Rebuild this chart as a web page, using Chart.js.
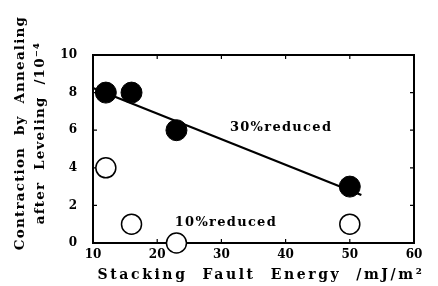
<!DOCTYPE html>
<html lang="en">
<head>
    <title>Stacking Fault Energy</title>
    <script src="https://cdn.jsdelivr.net/npm/chart.js"></script>
    <style>
        body { margin: 0; background: #fff; }
        #wrap { width: 438px; height: 286px; }
    </style>
</head>
<body>
    <div id="wrap"><canvas id="sfeChart"></canvas></div>

    <script>
        // values
        const energy = [12, 16, 23, 50];
        const reduced30 = [8, 8, 6, 3];
        const reduced10 = [4, 1, 0, 1];
        const fitX = [10, 51.8];
        const fitY = [8.25, 2.55];
        const xTicks = [10, 20, 30, 40, 50, 60];
        const yTicks = [0, 2, 4, 6, 8, 10];
        const notes = [
            { text: "30%reduced", x: 39.3, y: 6.15 },
            { text: "10%reduced", x: 30.7, y: 1.1 }
        ];

        const serif = "'DejaVu Serif', serif";

        // box with inward ticks, axis titles and notes
        const frame = {
            id: "frame",
            beforeDatasetsDraw(chart) {
                const ctx = chart.ctx;
                const a = chart.chartArea;
                const xs = chart.scales.x, ys = chart.scales.y;
                ctx.save();
                ctx.strokeStyle = "#000";
                ctx.lineWidth = 2;
                ctx.strokeRect(a.left, a.top, a.right - a.left, a.bottom - a.top);
                ctx.lineWidth = 1.2;
                ctx.beginPath();
                xTicks.slice(1, -1).forEach(v => {
                    const px = xs.getPixelForValue(v);
                    ctx.moveTo(px, a.bottom); ctx.lineTo(px, a.bottom - 4);
                    ctx.moveTo(px, a.top); ctx.lineTo(px, a.top + 4);
                });
                yTicks.slice(1, -1).forEach(v => {
                    const py = ys.getPixelForValue(v);
                    ctx.moveTo(a.left, py); ctx.lineTo(a.left + 4, py);
                    ctx.moveTo(a.right, py); ctx.lineTo(a.right - 4, py);
                });
                ctx.stroke();
                ctx.restore();
            },
            afterDraw(chart) {
                const ctx = chart.ctx;
                const xs = chart.scales.x, ys = chart.scales.y;
                ctx.save();
                ctx.fillStyle = "#000";
                ctx.textAlign = "center";
                ctx.textBaseline = "middle";

                ctx.font = "bold 13px " + serif;
                ctx.letterSpacing = "1.3px";
                notes.forEach(n => {
                    ctx.fillText(n.text, xs.getPixelForValue(n.x), ys.getPixelForValue(n.y));
                });

                ctx.font = "bold 14px " + serif;
                ctx.letterSpacing = "2.6px";
                ctx.fillText("Stacking  Fault  Energy  /mJ/m\u00b2", 261, 275);

                ctx.font = "bold 13.5px " + serif;
                ctx.letterSpacing = "1.2px";
                ctx.translate(0, 133);
                ctx.rotate(-Math.PI / 2);
                ctx.fillText("Contraction  by  Annealing", 0, 20);
                ctx.fillText("after  Leveling  /10\u207b\u2074", 0, 40);
                ctx.restore();
            }
        };

        new Chart(document.getElementById("sfeChart"), {
            type: "scatter",
            data: {
                datasets: [
                    {
                        label: "fit",
                        type: "line",
                        data: fitX.map((x, i) => ({ x: x, y: fitY[i] })),
                        borderColor: "#000",
                        borderWidth: 2.2,
                        pointRadius: 0,
                        clip: false,
                        order: 3
                    },
                    {
                        label: "30%reduced",
                        data: energy.map((x, i) => ({ x: x, y: reduced30[i] })),
                        pointRadius: 10.5,
                        backgroundColor: "#000",
                        borderColor: "#000",
                        borderWidth: 1,
                        clip: false,
                        order: 1
                    },
                    {
                        label: "10%reduced",
                        data: energy.map((x, i) => ({ x: x, y: reduced10[i] })),
                        pointRadius: 10,
                        backgroundColor: "#fff",
                        borderColor: "#000",
                        borderWidth: 1.5,
                        clip: false,
                        order: 2
                    }
                ]
            },
            options: {
                responsive: true,
                maintainAspectRatio: false,
                animation: false,
                layout: { padding: { left: 0, top: 55, right: 24, bottom: 0 } },
                plugins: { legend: { display: false }, tooltip: { enabled: false } },
                scales: {
                    x: {
                        type: "linear",
                        min: 10, max: 60,
                        afterBuildTicks: s => { s.ticks = xTicks.map(v => ({ value: v })); },
                        afterFit: s => { s.height = 43; },
                        grid: { display: false, drawTicks: false },
                        border: { display: false },
                        ticks: { color: "#000", padding: 5, maxRotation: 0, font: { family: serif, size: 12, weight: "bold" } }
                    },
                    y: {
                        min: 0, max: 10,
                        afterBuildTicks: s => { s.ticks = yTicks.map(v => ({ value: v })); },
                        afterFit: s => { s.width = 93; },
                        grid: { display: false, drawTicks: false },
                        border: { display: false },
                        ticks: { color: "#000", padding: 16, font: { family: serif, size: 12, weight: "bold" } }
                    }
                }
            },
            plugins: [frame]
        });
    </script>
</body>
</html>
